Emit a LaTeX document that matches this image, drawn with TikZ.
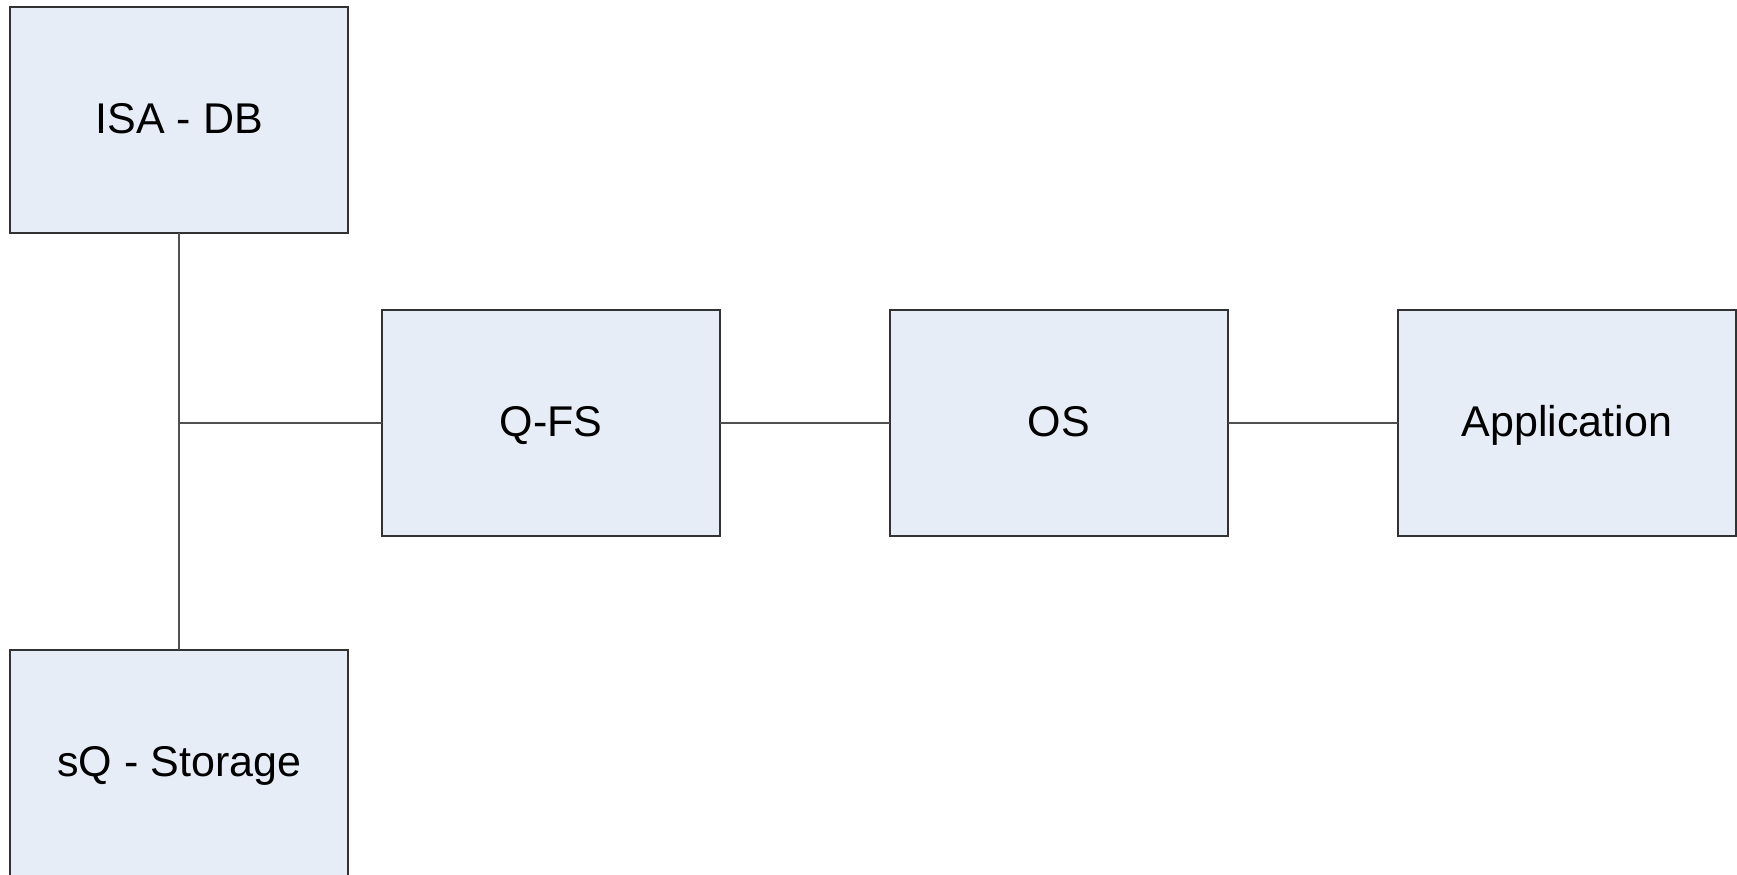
\documentclass[tikz,border=0pt]{standalone}
\usepackage{fontspec}
\setmainfont{Liberation Sans}
\usetikzlibrary{positioning}
\definecolor{boxfill}{RGB}{230,237,247}
\definecolor{boxline}{RGB}{50,50,50}
\definecolor{wire}{RGB}{80,80,80}

\begin{document}
\begin{tikzpicture}[
  x=0.5pt,
  y=-0.5pt,
  layer/.style={
    draw=boxline,
    fill=boxfill,
    line width=1pt,
    minimum width=169pt,
    minimum height=113pt,
    outer sep=0pt,
    text height=16.5pt,
    text depth=3.3pt,
    font=\fontsize{21.5}{26}\selectfont
  },
  link/.style={wire,line width=1pt}
]

% Page frame
\useasboundingbox (0,0) rectangle (1737,874);

% Storage side
\node[layer] (isadb) at (179.25,120.25) {ISA - DB};
\node[layer] (sqstore) at (179.25,763) {sQ - Storage};

% Stack
\node[layer] (qfs) at (551,423) {Q-FS};
\node[layer,right=85pt of qfs] (os) {OS};
\node[layer,right=85pt of os] (app) {Application};

% Links
\coordinate (join) at (isadb.south |- qfs.west);
\draw[link] (isadb) -- (sqstore);
\draw[link] (join) -- (qfs);
\draw[link] (qfs) -- (os);
\draw[link] (os) -- (app);
\end{tikzpicture}
\end{document}
